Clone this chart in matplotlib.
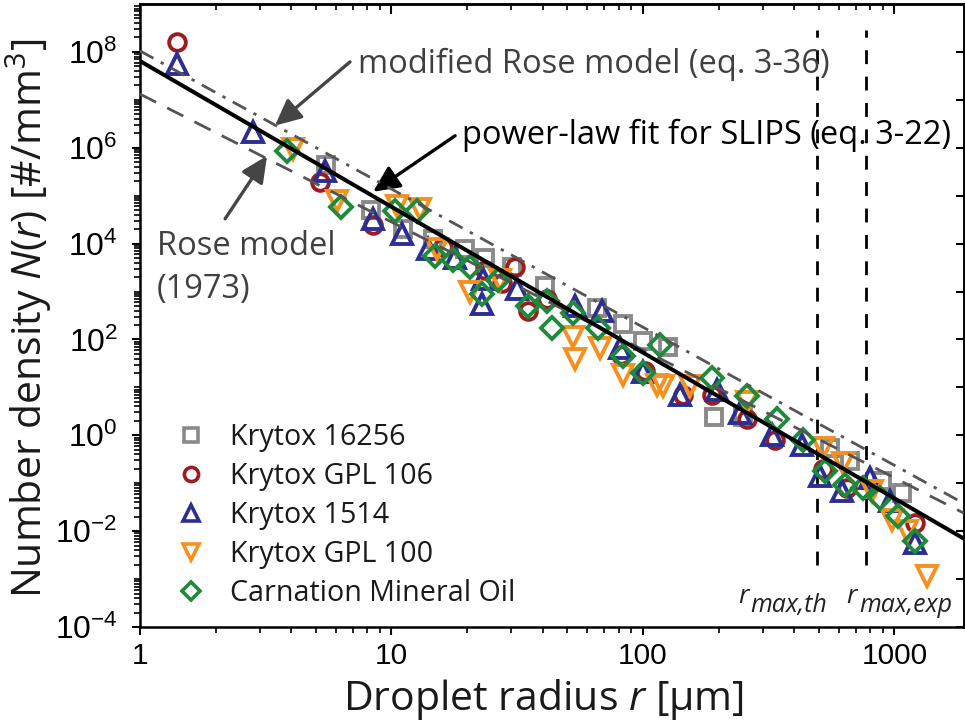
import numpy as np
import matplotlib
matplotlib.use('Agg')
import matplotlib.pyplot as plt
from matplotlib.ticker import FixedLocator, NullFormatter, FuncFormatter
from matplotlib.lines import Line2D

plt.rcParams['font.family'] = ['Open Sans', 'DejaVu Sans']
plt.rcParams['mathtext.fontset'] = 'custom'
plt.rcParams['mathtext.rm'] = 'Open Sans'
plt.rcParams['mathtext.it'] = 'Open Sans:italic'
plt.rcParams['mathtext.bf'] = 'Open Sans:bold'

# ---------------- data ----------------
sq_r = [5.5, 8.3, 11.1, 14.6, 19.6, 23.5, 30.1, 40.8, 65.6, 83.3, 100, 126,
        191, 250, 554, 665, 892, 1071]
sq_N = [4.27e5, 5.0e4, 2.04e4, 1.26e4, 7.9e3, 4.9e3, 3.3e3, 1.33e3, 447, 214,
        91, 71, 2.37, 2.37, 0.54, 0.29, 0.11, 0.062]

ci_r = [1.40, 5.2, 8.44, 16.0, 23.5, 27.5, 31.0, 34.9, 41.5, 82, 102, 144,
        188, 259, 335, 520, 648, 1207]
ci_N = [1.6e8, 1.95e5, 2.4e4, 8.7e3, 2.75e3, 1.48e3, 3.3e3, 400, 710, 47,
        22, 6.8, 6.8, 2.24, 0.79, 0.20, 0.079, 0.0148]

tu_r = [1.40, 2.81, 5.44, 8.44, 11.0, 14.0, 17.9, 22.9, 23.1, 31.6, 53.7,
        68.7, 81, 100, 140, 197, 243, 326, 429, 506, 618, 800, 960, 1207]
tu_N = [5.6e7, 2.1e6, 3.2e5, 3.3e4, 1.6e4, 7.9e3, 4.9e3, 560, 1.86e3, 1.15e3,
        510, 400, 65, 21, 6.8, 8.7, 2.9, 1.0, 0.62, 0.14, 0.068, 0.126,
        0.042, 0.0056]

td_r = [4.06, 6.07, 10.5, 13.0, 15.2, 20.5, 27.0, 52.7, 53.7, 67.5, 83.3,
        114, 120, 154, 260, 520, 624, 814, 977, 1122, 1347]
td_N = [9.5e5, 7.9e4, 6.2e4, 5.4e4, 7.9e3, 1.0e3, 1.7e3, 115, 40, 65, 17.8,
        11, 10.5, 10.5, 5.0, 0.54, 0.26, 0.068, 0.017, 0.010, 0.00115]

di_r = [3.84, 6.3, 10.3, 12.6, 14.9, 17.6, 20.5, 22.9, 26.5, 34.9, 41.5,
        43.5, 52.7, 66.2, 83.3, 100, 117, 188, 259, 341, 433, 530, 635, 750,
        875, 1033, 1207]
di_N = [8.7e5, 5.9e4, 4.9e4, 4.9e4, 5.6e3, 4.5e3, 3.3e3, 910, 1.7e3, 490,
        620, 170, 350, 170, 45, 19.5, 76, 15.5, 6.5, 2.24, 0.79, 0.18, 0.091,
        0.079, 0.049, 0.021, 0.0062]

series_labels = ['Krytox 16256', 'Krytox GPL 106', 'Krytox 1514',
                 'Krytox GPL 100', 'Carnation Mineral Oil']

# model / fit lines (end points)
line_r = [1.0, 1890.0]
fit_N = [6.46e7, 6.95e-3]        # power-law fit for SLIPS
mod_rose_N = [1.05e8, 3.77e-2]   # modified Rose model
rose_N = [1.32e7, 2.37e-2]       # Rose model (1973)

r_max_th = 492
r_max_exp = 771

x_ticks = [1, 10, 100, 1000]
y_ticks = [1e-4, 1e-2, 1e0, 1e2, 1e4, 1e6, 1e8]

# ---------------- figure ----------------
W, H = 965, 727
fig = plt.figure(figsize=(W / 100, H / 100), dpi=100)
ax = fig.add_axes([140 / W, 1 - 627 / H, (964 - 140) / W, (627 - 4) / H])
ax.set_xscale('log')
ax.set_yscale('log')
ax.set_xlim(1, 1890)
ax.set_ylim(1e-4, 1e9)

colors = ['#8a8a8a', '#9c1c1f', '#2b2f94', '#f7901e', '#1f8a3b']
markers = ['s', 'o', '^', 'v', 'D']
sizes = [11.5, 12, 14, 14, 11]
data = [(sq_r, sq_N), (ci_r, ci_N), (tu_r, tu_N), (td_r, td_N), (di_r, di_N)]

for (rr, nn), c, m, s in zip(data, colors, markers, sizes):
    ax.plot(rr, nn, ls='none', marker=m, ms=s, mfc='none', mec=c, mew=2.8,
            zorder=3)

ax.plot(line_r, rose_N, ls=(0, (6.5, 4.5)), color='#555555', lw=2.0, zorder=4)
ax.plot(line_r, mod_rose_N, ls=(0, (5.5, 3, 1.2, 3)), color='#555555', lw=2.0,
        zorder=4)
ax.plot(line_r, fit_N, ls='-', color='black', lw=2.9, zorder=5)

ax.vlines([r_max_th, r_max_exp], 2.0e-3, 2.8e8, colors='black', lw=2.0,
          linestyles=(0, (5, 4.5)), zorder=2)

# r_max labels (italic r with same-size italic subscript)
for xr, sub in [(r_max_th, 'max,th'), (r_max_exp, 'max,exp')]:
    ax.annotate('r', xy=(xr, 1e-4), xycoords='data',
                xytext=(-57 if sub == 'max,th' else -14, 17),
                textcoords='offset points', fontsize=19, style='italic',
                color='#222222', ha='left', va='baseline')
    ax.annotate(sub, xy=(xr, 1e-4), xycoords='data',
                xytext=(-48 if sub == 'max,th' else -5, 11),
                textcoords='offset points', fontsize=18, style='italic',
                color='#222222', ha='left', va='baseline')

# annotations
gray_txt = '#404040'
arrow_kw = dict(arrowstyle='-|>,head_length=0.8,head_width=0.38',
                mutation_scale=20, lw=2.4, shrinkA=0, shrinkB=0)
ax.annotate('', xy=(3.44, 2.9e6), xytext=(6.84, 6.2e7),
            arrowprops=dict(color='#454545', **arrow_kw))
ax.annotate('', xy=(8.45, 1.21e5), xytext=(17.9, 1.78e6),
            arrowprops=dict(color='black', **arrow_kw))
ax.annotate('', xy=(3.2, 6.8e5), xytext=(2.18, 3.3e4),
            arrowprops=dict(color='#454545', **arrow_kw))

ax.text(7.36, 5.4e7, 'modified Rose model (eq. 3-36)', fontsize=23.5,
        color=gray_txt, va='center', ha='left')
ax.text(19.1, 1.78e6, 'power-law fit for SLIPS (eq. 3-22)', fontsize=23.5,
        color='black', va='center', ha='left')
ax.text(1.17, 8.7e3, 'Rose model', fontsize=23.5, color=gray_txt,
        va='center', ha='left')
ax.text(1.17, 1.1e3, '(1973)', fontsize=23.5, color=gray_txt, va='center',
        ha='left')

# legend
handles = [Line2D([], [], ls='none', marker=m, ms=s * 0.85, mfc='none', mec=c,
                  mew=2.6) for c, m, s in zip(colors, markers, sizes)]
leg = ax.legend(handles, series_labels, loc='upper left',
                bbox_to_anchor=(0.045, 0.328), frameon=False, fontsize=20.6,
                handlelength=1.0, handletextpad=0.85, labelspacing=0.35,
                borderaxespad=0, borderpad=0)
for t in leg.get_texts():
    t.set_color('#1a1a1a')

# ticks
ax.xaxis.set_major_locator(FixedLocator(x_ticks))
x_minor = [m * 10 ** e for e in range(0, 4) for m in range(2, 10)]
ax.xaxis.set_minor_locator(FixedLocator(x_minor))
ax.xaxis.set_major_formatter(FuncFormatter(lambda v, p: f'{int(round(v))}'))
ax.xaxis.set_minor_formatter(NullFormatter())

ax.yaxis.set_major_locator(FixedLocator(y_ticks))
y_minor = [m * 10.0 ** e for e in range(-4, 9) for m in range(1, 10)
           if not (m == 1 and e % 2 == 0)]
ax.yaxis.set_minor_locator(FixedLocator(y_minor))
ax.yaxis.set_major_formatter(FuncFormatter(
    lambda v, p: r'$\mathdefault{10^{%d}}$' % int(round(np.log10(v)))))
ax.yaxis.set_minor_formatter(NullFormatter())

ax.tick_params(axis='both', which='major', direction='out', length=6,
               width=1.5, labelfontfamily='Liberation Sans')
ax.tick_params(axis='both', which='minor', direction='out', length=4,
               width=1.2)
ax.tick_params(axis='x', which='major', pad=5, labelsize=21.5)
ax.tick_params(axis='y', which='major', pad=10, labelsize=23)

for sp in ax.spines.values():
    sp.set_linewidth(1.8)

# inward ticks on top and right
secx = ax.secondary_xaxis('top')
secx.xaxis.set_major_locator(FixedLocator(x_ticks))
secx.xaxis.set_minor_locator(FixedLocator(x_minor))
secx.xaxis.set_major_formatter(NullFormatter())
secx.xaxis.set_minor_formatter(NullFormatter())
secx.tick_params(which='major', direction='in', length=7, width=1.5)
secx.tick_params(which='minor', direction='in', length=4, width=1.2)
secx.spines['top'].set_linewidth(1.8)

secy = ax.secondary_yaxis('right')
secy.yaxis.set_major_locator(FixedLocator([10.0 ** e for e in range(-4, 9)]))
secy.yaxis.set_minor_locator(FixedLocator([]))
secy.yaxis.set_major_formatter(NullFormatter())
secy.tick_params(which='major', direction='in', length=6, width=1.5)
secy.spines['right'].set_linewidth(1.8)

# axis labels
fig.text(543 / W, 1 - 699 / H, r'Droplet radius $r$ [µm]', fontsize=29.5,
         ha='center', va='center', color='#1a1a1a')
fig.text(29 / W, 1 - 318 / H, r'Number density $N$($r$) [#/mm$^3$]',
         fontsize=29.5, ha='center', va='center', rotation=90,
         color='#1a1a1a')

fig.savefig('out.png', dpi=100)
